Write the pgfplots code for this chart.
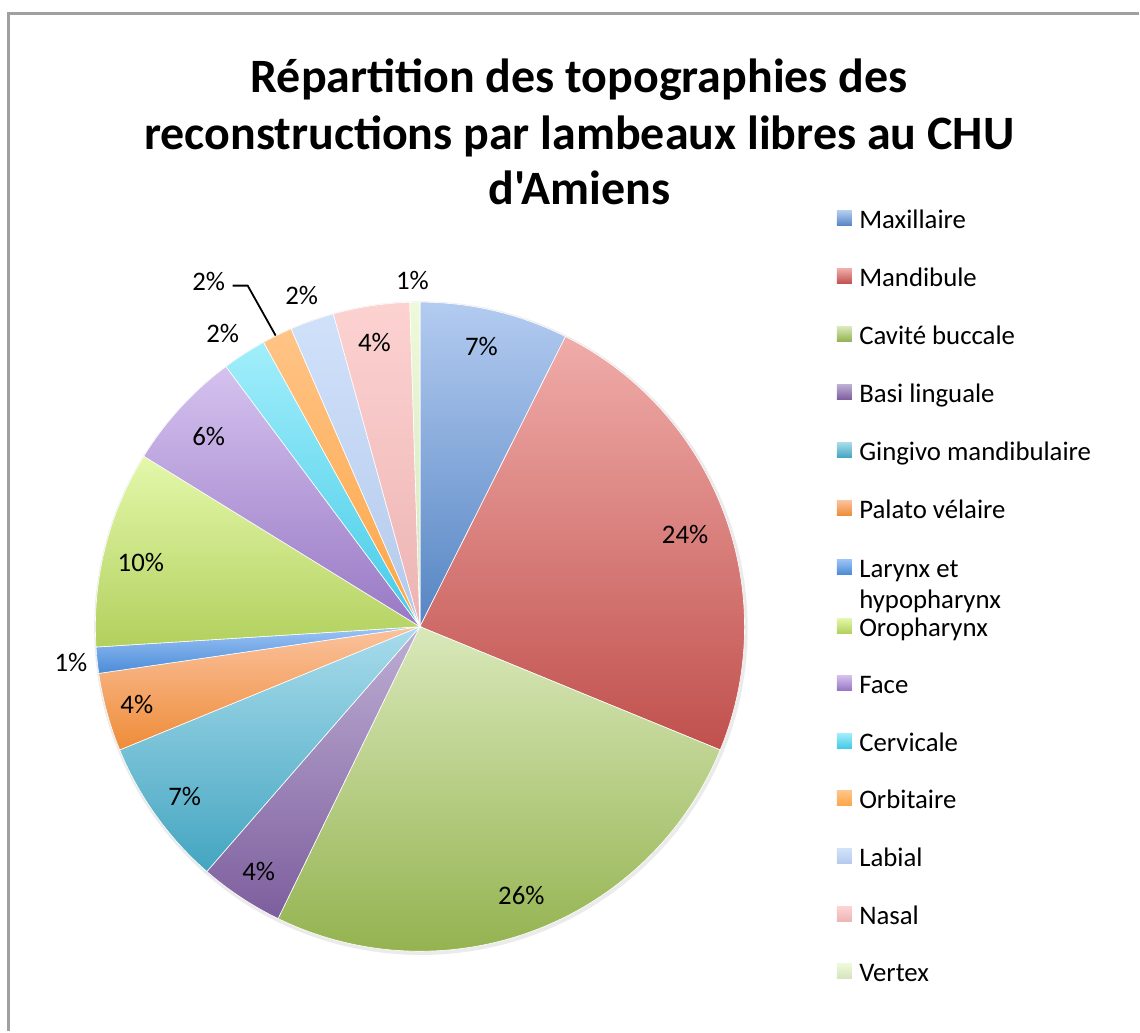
\documentclass[border=0pt]{standalone}
\usepackage{pgfplots}
\pgfplotsset{compat=1.18}
\usepackage{pgfplotstable}
\usepackage{fontspec}
\setmainfont{Carlito}[Ligatures=TeXOff]

% slice colours: top (light) and bottom (dark) of each gradient
\definecolor{tA}{HTML}{B3CBF0}\definecolor{bA}{HTML}{5585C3}
\definecolor{tB}{HTML}{F0ACA9}\definecolor{bB}{HTML}{C0504D}
\definecolor{tC}{HTML}{D9E8BA}\definecolor{bC}{HTML}{93B24E}
\definecolor{tD}{HTML}{BDAED4}\definecolor{bD}{HTML}{7D5E9D}
\definecolor{tE}{HTML}{A8DCEC}\definecolor{bE}{HTML}{44A5C0}
\definecolor{tF}{HTML}{FBC29E}\definecolor{bF}{HTML}{EE8C38}
\definecolor{tG}{HTML}{9EC4F6}\definecolor{bG}{HTML}{4A8CD8}
\definecolor{tH}{HTML}{E4F8AA}\definecolor{bH}{HTML}{B2D05E}
\definecolor{tI}{HTML}{D5C2EF}\definecolor{bI}{HTML}{9878C4}
\definecolor{tJ}{HTML}{A2EEFB}\definecolor{bJ}{HTML}{45CBE7}
\definecolor{tK}{HTML}{FFC487}\definecolor{bK}{HTML}{FDA545}
\definecolor{tL}{HTML}{D0E1FA}\definecolor{bL}{HTML}{B4C9EB}
\definecolor{tM}{HTML}{FCD2D1}\definecolor{bM}{HTML}{ECB4B3}
\definecolor{tN}{HTML}{EEF9D9}\definecolor{bN}{HTML}{D4E4BD}
\definecolor{framegray}{HTML}{A0A0A0}

% value = share in percent, pct = printed label, (lx,ly) = label position
\pgfplotstableread{
id value pct lx ly
A 7.4 7 482 685
B 23.8 24 686 497
C 26.0 26 522 135
D 4.2 4 259 159
E 7.4 7 185 234
F 3.9 4 137 327
G 1.3 1 71 369
H 9.8 10 141 469
I 6.0 6 209 595
J 2.2 2 223 698
K 1.5 2 209 750
L 2.2 2 302 736
M 3.8 4 375 689
N 0.5 1 413 751
}\piedata

\begin{document}
\begin{tikzpicture}
\gdef\cum{90}%
\foreach \k [count=\r from 0] in {A,B,C,D,E,F,G,H,I,J,K,L,M,N}{%
  \pgfplotstablegetelem{\r}{value}\of\piedata
  \pgfmathsetmacro\s{\cum}%
  \pgfmathsetmacro\e{\cum-3.6*\pgfplotsretval}%
  \pgfmathsetmacro\sx{420.5+325*cos(\s)}%
  \pgfmathsetmacro\sy{404.5+325*sin(\s)}%
  \expandafter\xdef\csname sa\k\endcsname{\s}%
  \expandafter\xdef\csname ea\k\endcsname{\e}%
  \expandafter\xdef\csname sx\k\endcsname{\sx}%
  \expandafter\xdef\csname sy\k\endcsname{\sy}%
  \xdef\cum{\e}%
  \pgfplotstablegetelem{\r}{lx}\of\piedata
  \expandafter\xdef\csname lx\k\endcsname{\pgfplotsretval}%
  \pgfplotstablegetelem{\r}{ly}\of\piedata
  \expandafter\xdef\csname ly\k\endcsname{\pgfplotsretval}%
  \pgfplotstablegetelem{\r}{pct}\of\piedata
  \expandafter\xdef\csname pc\k\endcsname{\pgfplotsretval}%
}%
\begin{axis}[hide axis, x=0.5pt, y=0.5pt, xmin=0, xmax=1140, ymin=0, ymax=1032,
  clip=false, scale only axis]
\path (axis cs:0,0) rectangle (axis cs:1140,1032);
% frame
\draw[framegray, line width=1.5pt] (axis cs:9,0) -- (axis cs:9,1018) -- (axis cs:1140,1018);
% title
\node[anchor=base, font=\fontsize{24}{28}\selectfont\bfseries] at (axis cs:580,939) {Répartition des topographies des};
\node[anchor=base, font=\fontsize{24}{28}\selectfont\bfseries] at (axis cs:580,882) {reconstructions par lambeaux libres au CHU};
\node[anchor=base, font=\fontsize{24}{28}\selectfont\bfseries] at (axis cs:580,827) {d'Amiens};
% soft shadow
\fill[black!8] (axis cs:421.5,403) circle[radius=163.6pt];
% slices
\pgfplotsinvokeforeach{A,B,C,D,E,F,G,H,I,J,K,L,M,N}{
  \path[draw=white, line width=0.3pt, top color=t#1, bottom color=b#1]
    (axis cs:420.5,404.5) -- (axis cs:{\csname sx#1\endcsname},{\csname sy#1\endcsname})
    arc[start angle=\csname sa#1\endcsname, end angle=\csname ea#1\endcsname, radius=162.5pt] -- cycle;
}
% labels
\pgfplotsinvokeforeach{A,B,C,D,E,F,G,H,I,J,K,L,M,N}{
  \node[font=\fontsize{13.4}{16}\selectfont, inner sep=0pt] at (axis cs:{\csname lx#1\endcsname},{\csname ly#1\endcsname}) {\csname pc#1\endcsname\%};
}
\draw[black, line width=0.9pt] (axis cs:233,746) -- (axis cs:248,746) -- (axis cs:276,696);
% legend
\newcommand\lgd[3]{%
  \path[top color=t#1, bottom color=b#1] (axis cs:838,{1032-#2+3}) rectangle (axis cs:853,{1032-#2+18});
  \node[anchor=base west, inner sep=0pt, font=\fontsize{13.4}{16}\selectfont] at (axis cs:860,{1032-#2}) {#3};
}
\lgd{A}{229}{Maxillaire}
\lgd{B}{287}{Mandibule}
\lgd{C}{345}{Cavité buccale}
\lgd{D}{403}{Basi linguale}
\lgd{E}{461}{Gingivo mandibulaire}
\lgd{F}{519}{Palato vélaire}
\lgd{G}{578}{Larynx et}
\node[anchor=base west, inner sep=0pt, font=\fontsize{13.4}{16}\selectfont] at (axis cs:860,{1032-609}) {hypopharynx};
\lgd{H}{637}{Oropharynx}
\lgd{I}{694}{Face}
\lgd{J}{752}{Cervicale}
\lgd{K}{810}{Orbitaire}
\lgd{L}{868}{Labial}
\lgd{M}{926}{Nasal}
\lgd{N}{983}{Vertex}
\end{axis}
\end{tikzpicture}
\end{document}
